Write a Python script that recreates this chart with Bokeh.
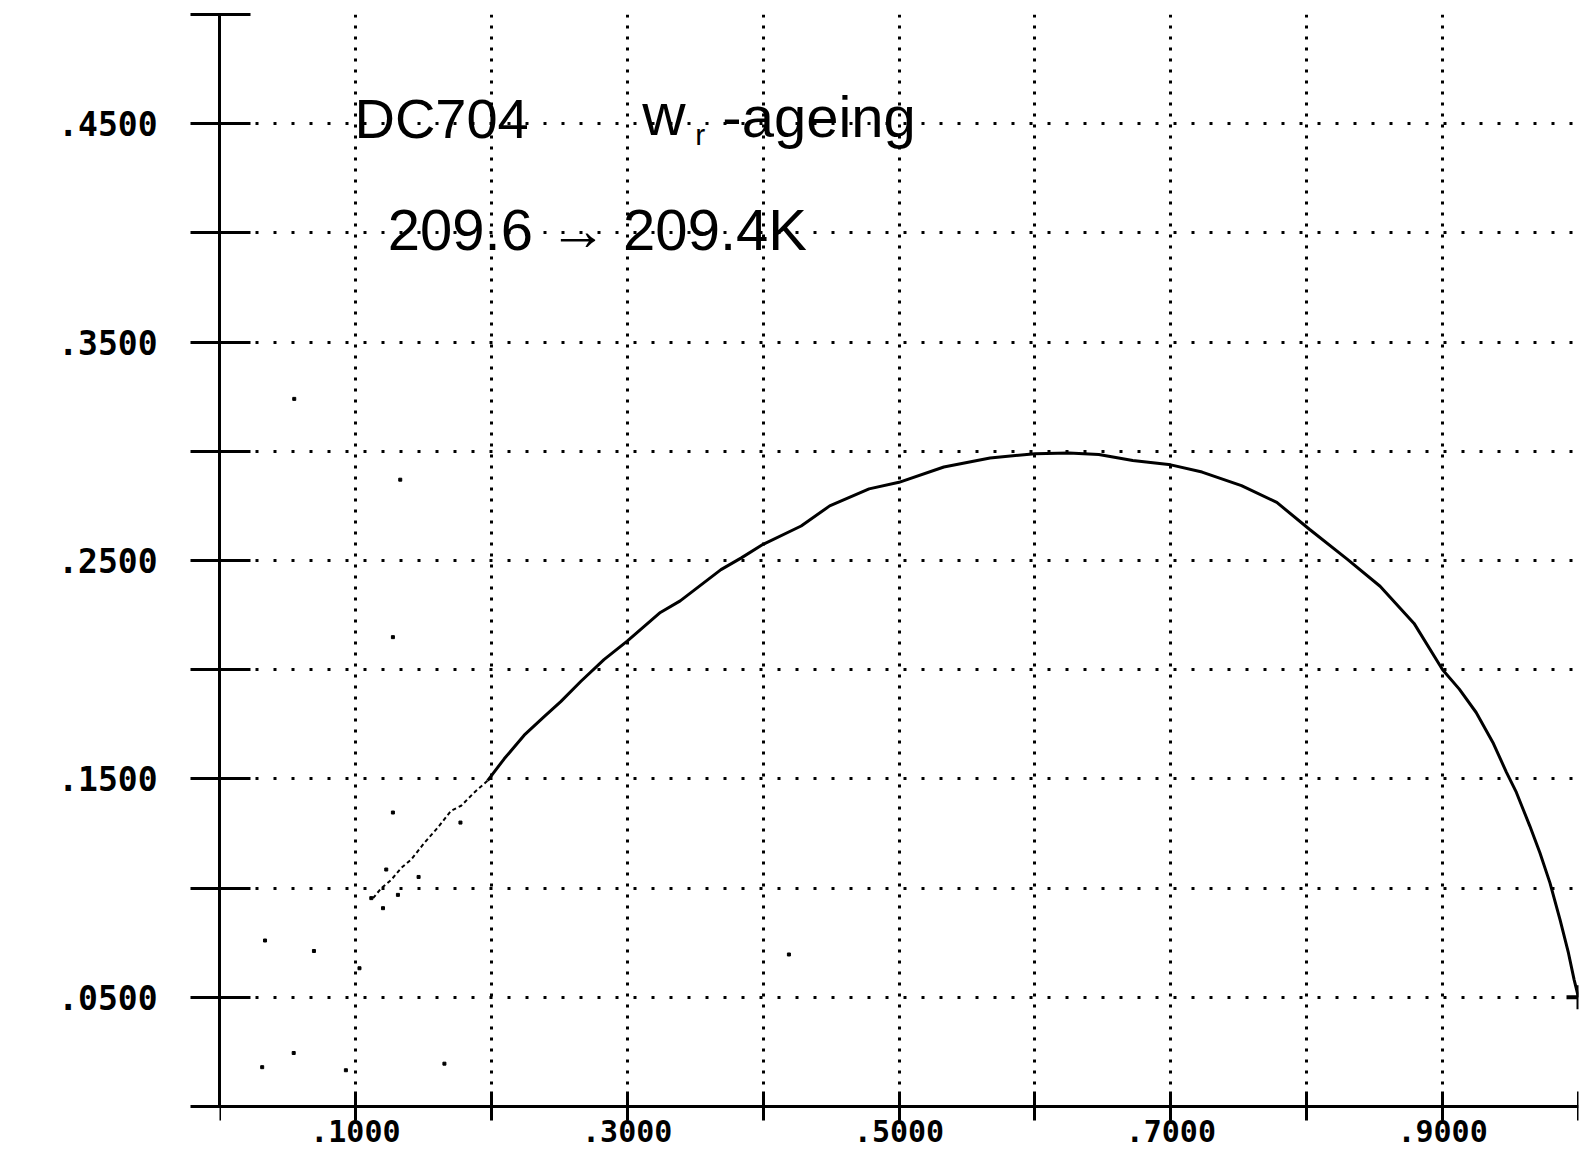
from bokeh.plotting import figure
from bokeh.models import FixedTicker, Range1d, BoxAnnotation
from bokeh.core.properties import value
from bokeh.embed import file_html
from bokeh.resources import INLINE

# ---------------- data ----------------
# noisy start of the trace (broken / dotted on the plotter)
start_x = [0.113, 0.1191, 0.1264, 0.1337, 0.1411, 0.1509, 0.1606, 0.1704,
           0.1778, 0.1875, 0.1973]
start_y = [0.0954, 0.1000, 0.1038, 0.1092, 0.1131, 0.1208, 0.1277, 0.1354,
           0.1377, 0.1438, 0.1492]

# main trace
curve_x = [0.1973, 0.2095, 0.2242, 0.2389, 0.2511, 0.2658, 0.2829, 0.3000,
           0.3244, 0.3390, 0.3690, 0.3840, 0.4000, 0.4280, 0.4490, 0.4780,
           0.5000, 0.5330, 0.5670, 0.6000, 0.6250, 0.6470, 0.6720, 0.7000,
           0.7230, 0.7520, 0.7780, 0.8020, 0.8300, 0.8540, 0.8790, 0.9000,
           0.9123, 0.9247, 0.9370, 0.9470, 0.9543, 0.9642, 0.9716, 0.9790,
           0.9864, 0.9926, 0.9968, 1.0000]
curve_y = [0.1492, 0.1592, 0.1700, 0.1785, 0.1854, 0.1946, 0.2046, 0.2131,
           0.2262, 0.2315, 0.2458, 0.2512, 0.2574, 0.2658, 0.2750, 0.2828,
           0.2858, 0.2928, 0.2969, 0.2989, 0.2992, 0.2985, 0.2958, 0.2938,
           0.2905, 0.2843, 0.2766, 0.2643, 0.2505, 0.2382, 0.2212, 0.2000,
           0.1911, 0.1804, 0.1667, 0.1530, 0.1438, 0.1284, 0.1162, 0.1024,
           0.0856, 0.0703, 0.0580, 0.0500]

# scattered single points (noise of the early part and stray dots)
stray_x = [0.1227, 0.1465, 0.1203, 0.1313, 0.1773, 0.1276, 0.1276, 0.1117,
           0.0335, 0.0695, 0.1030, 0.4190, 0.0546, 0.0314, 0.0930, 0.1655,
           0.0550, 0.1330]
stray_y = [0.1085, 0.1051, 0.0908, 0.0969, 0.1300, 0.1346, 0.2149, 0.0954,
           0.0760, 0.0712, 0.0633, 0.0696, 0.0245, 0.0180, 0.0166, 0.0196,
           0.3240, 0.2870]

# end marker
end_x = [1.0]
end_y = [0.05]

# axes
x_ticks = [0.0, 0.1, 0.2, 0.3, 0.4, 0.5, 0.6, 0.7, 0.8, 0.9, 1.0]
x_labels = {0.1: ".1000", 0.3: ".3000", 0.5: ".5000", 0.7: ".7000", 0.9: ".9000"}
y_ticks = [0.0, 0.05, 0.1, 0.15, 0.2, 0.25, 0.3, 0.35, 0.4, 0.45, 0.5]
y_labels = {0.05: ".0500", 0.15: ".1500", 0.25: ".2500", 0.35: ".3500", 0.45: ".4500"}

# handwritten notes
note1_text = ["DC704"]
note1_x = [0.0993]
note1_y = [0.4526]
note_w_text = ["w"]
note_w_x = [0.311]
note_w_y = [0.4540]
note_sub_text = ["r"]
note_sub_x = [0.350]
note_sub_y = [0.4450]
note_age_text = ["-ageing"]
note_age_x = [0.370]
note_age_y = [0.4534]
note2_text = ["209.6 \u2192 209.4K"]
note2_x = [0.1238]
note2_y = [0.4015]

# ---------------- figure ----------------
p = figure(width=1581, height=1150,
           x_range=Range1d(0.0, 1.0), y_range=Range1d(-0.02015, 0.5),
           output_backend="svg", toolbar_location=None,
           min_border_left=219, min_border_right=3,
           min_border_top=14, min_border_bottom=0)
p.background_fill_color = "white"
p.border_fill_color = "white"
p.outline_line_color = None

# axes
xa = p.xaxis[0]
xa.fixed_location = 0.0
xa.ticker = FixedTicker(ticks=x_ticks)
xa.major_label_overrides = {t: x_labels.get(t, "") for t in x_ticks}
xa.major_tick_out = 14
xa.major_tick_in = 15
xa.major_label_standoff = 0

ya = p.yaxis[0]
ya.bounds = (0.0, 0.5)
ya.ticker = FixedTicker(ticks=y_ticks)
ya.major_label_overrides = {t: y_labels.get(t, "") for t in y_ticks}
ya.major_tick_out = 29
ya.major_tick_in = 31
ya.major_label_standoff = 33

for ax in (xa, ya):
    ax.axis_line_color = "black"
    ax.axis_line_width = 3
    ax.major_tick_line_color = "black"
    ax.major_tick_line_width = 3
    ax.minor_tick_line_color = None
    ax.major_label_text_font = "DejaVu Sans Mono"
    ax.major_label_text_font_style = "bold"
    ax.major_label_text_color = "black"
xa.major_label_text_font_size = "30px"
ya.major_label_text_font_size = "33px"

# dotted grid
p.xgrid.ticker = FixedTicker(ticks=x_ticks)
p.xgrid.grid_line_color = "black"
p.xgrid.grid_line_width = 3
p.xgrid.grid_line_dash = "3 8"
p.ygrid.ticker = FixedTicker(ticks=y_ticks)
p.ygrid.grid_line_color = "black"
p.ygrid.grid_line_width = 3
p.ygrid.grid_line_dash = "3 15"

# hide grid below the x axis
p.add_layout(BoxAnnotation(top=0.0, fill_color="white", fill_alpha=1.0,
                           line_alpha=0.0, level="glyph"))

# data
p.line(start_x, start_y, line_color="black", line_width=2, line_dash="4 3")
p.line(curve_x, curve_y, line_color="black", line_width=3)
p.scatter(stray_x, stray_y, marker="square", size=3, color="black")
p.scatter(end_x, end_y, marker="cross", size=24, line_color="black", line_width=4)

# handwritten notes
hw = value("Liberation Sans")
p.text(note1_x, note1_y, text=note1_text, text_font=hw, text_font_size=value("56px"),
       text_color="black", text_baseline="alphabetic", text_align="left")
p.text(note_w_x, note_w_y, text=note_w_text, text_font=hw, text_font_size=value("60px"),
       text_color="black", text_baseline="alphabetic", text_align="left")
p.text(note_sub_x, note_sub_y, text=note_sub_text, text_font=hw, text_font_size=value("30px"),
       text_color="black", text_baseline="alphabetic", text_align="left")
p.text(note_age_x, note_age_y, text=note_age_text, text_font=hw, text_font_size=value("58px"),
       text_color="black", text_baseline="alphabetic", text_align="left")
p.text(note2_x, note2_y, text=note2_text, text_font=hw, text_font_size=value("58px"),
       text_color="black", text_baseline="alphabetic", text_align="left")

open("out.html", "w").write(file_html(p, INLINE))
